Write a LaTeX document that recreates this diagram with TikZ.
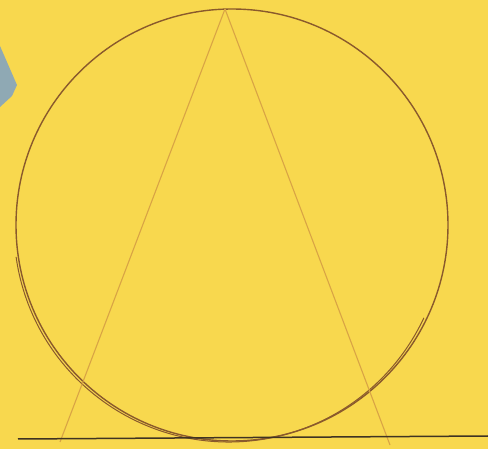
\documentclass[tikz,border=0pt]{standalone}
\usepackage{xcolor}
\usepackage{tikz}
\definecolor{paper}{HTML}{F8D84E}
\definecolor{tape}{HTML}{8FA9B4}
\definecolor{pencil}{HTML}{8A5A2C}
\definecolor{chord}{HTML}{D9A445}
\definecolor{rule}{HTML}{3F3322}

\begin{document}
\begin{tikzpicture}[
      x=1pt, y=-1pt,
      kreis/.style={pencil, line width=1.4pt},
      sehne/.style={chord, line width=1.1pt},
      linie/.style={rule, line width=1.5pt}]
    % paper and bounding box
    \fill[paper] (0,0) rectangle (488,449);
    \useasboundingbox (0,0) rectangle (488,449);
    \fill[tape] (0,46) -- (17,85) -- (12,96) -- (0,107) -- cycle;
    % points
    \coordinate (M) at (232,225);
    \coordinate (A) at (225,9);
    \coordinate (L) at (60,442);
    \coordinate (R) at (390,445);
    % circle, drawn twice at the bottom
    \draw[kreis] (M) circle[radius=216];
    \draw[kreis, line width=1pt] (229,227) ++(172:215) arc[start angle=172, end angle=25, radius=215];
    % two lines from the top point
    \draw[sehne] (A) -- (L);
    \draw[sehne] (A) -- (R);
    % ground line
    \draw[linie] (18,439) -- (488,436);
  \end{tikzpicture}
\end{document}
